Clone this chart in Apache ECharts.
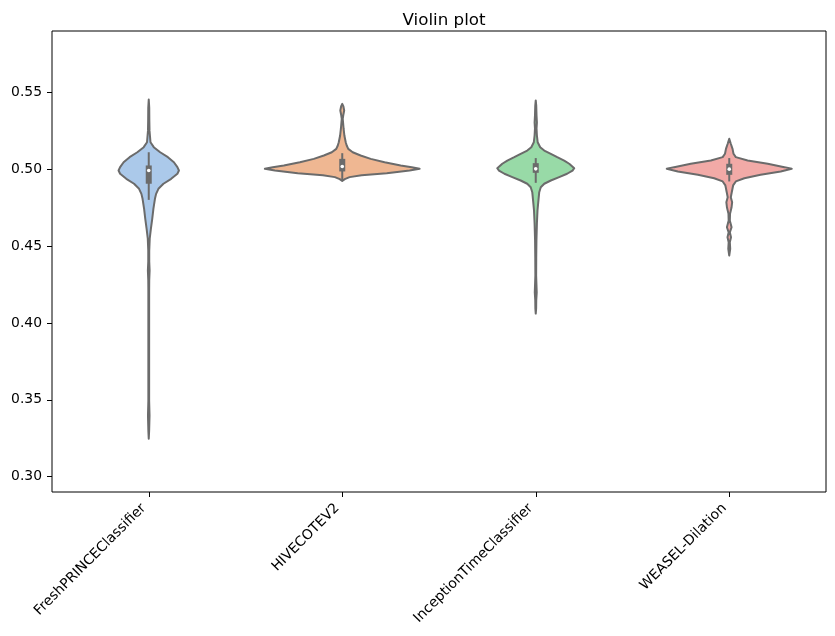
<!DOCTYPE html>
<html>
<head>
<meta charset="utf-8">
<script src="https://cdn.jsdelivr.net/npm/echarts@6/dist/echarts.min.js"></script>
<style>
  html, body { margin: 0; padding: 0; background: #fff; }
  #chart { width: 835px; height: 636px; }
</style>
</head>
<body>
<div id="chart"></div>
<script>
// categories
var categories = ['FreshPRINCEClassifier', 'HIVECOTEV2', 'InceptionTimeClassifier', 'WEASEL-Dilation'];

// violin outlines: value (top -> bottom) and half width as % of the category band
var freshY = [0.5454, 0.5400, 0.5318, 0.5250, 0.5176, 0.5144, 0.5111, 0.5079, 0.5046, 0.5014, 0.4992, 0.4971, 0.4938, 0.4906, 0.4873, 0.4840, 0.4808, 0.4743, 0.4678, 0.4613, 0.4548, 0.4471, 0.4400, 0.4341, 0.4280, 0.4211, 0.3820, 0.3495, 0.3397, 0.3299, 0.3247];
var freshW = [0, 0.25, 0.3, 0.4, 0.9, 2.6, 5.9, 9.9, 13.0, 14.8, 15.6, 14.8, 11.6, 7.6, 5.0, 3.8, 3.2, 2.4, 1.8, 1.1, 0.5, 0.25, 0.25, 0.45, 0.25, 0.2, 0.2, 0.2, 0.4, 0.2, 0];

var hiveY = [0.5426, 0.5409, 0.5383, 0.5357, 0.5329, 0.5307, 0.5264, 0.5220, 0.5176, 0.5155, 0.5133, 0.5111, 0.5090, 0.5068, 0.5046, 0.5025, 0.5014, 0.5003, 0.4992, 0.4975, 0.4962, 0.4949, 0.4936, 0.4924];
var hiveW = [0, 0.6, 1.0, 0.6, 0.25, 0.4, 0.7, 1.1, 1.8, 2.3, 3.1, 5.4, 9.5, 14.7, 21.9, 30.2, 35.9, 40.0, 34.8, 23.0, 10.0, 3.8, 1.3, 0];

var inceptionY = [0.5448, 0.5415, 0.5350, 0.5305, 0.5266, 0.5220, 0.5176, 0.5144, 0.5122, 0.5101, 0.5079, 0.5057, 0.5036, 0.5007, 0.4992, 0.4971, 0.4949, 0.4927, 0.4906, 0.4883, 0.4851, 0.4786, 0.4732, 0.4647, 0.4536, 0.4426, 0.4309, 0.4198, 0.4146, 0.4094, 0.4061];
var inceptionW = [0, 0.25, 0.4, 0.6, 0.4, 0.6, 1.0, 2.3, 4.4, 7.8, 11.1, 14.7, 17.3, 19.9, 19.0, 16.2, 12.1, 7.8, 4.4, 2.6, 1.8, 1.3, 0.9, 0.6, 0.35, 0.25, 0.2, 0.5, 0.25, 0.2, 0];

var weaselY = [0.5199, 0.5166, 0.5133, 0.5101, 0.5079, 0.5057, 0.5036, 0.5014, 0.5003, 0.4986, 0.4964, 0.4942, 0.4921, 0.4895, 0.4851, 0.4818, 0.4786, 0.4753, 0.4710, 0.4667, 0.4623, 0.4590, 0.4558, 0.4525, 0.4482, 0.4439];
var weaselW = [0, 0.8, 1.7, 2.2, 3.4, 9.5, 19.9, 28.5, 32.3, 26.6, 16.2, 7.8, 3.4, 2.0, 1.3, 0.8, 1.5, 1.2, 0.4, 0.3, 1.2, 0.3, 0.9, 0.3, 0.5, 0];

// inner box stats per category
var whiskerLow = [0.4801, 0.4925, 0.4912, 0.4921];
var q1 = [0.4906, 0.4986, 0.4977, 0.4964];
var median = [0.4992, 0.5018, 0.5003, 0.5001];
var q3 = [0.5025, 0.5068, 0.5040, 0.5036];
var whiskerHigh = [0.5111, 0.5105, 0.5073, 0.5073];

// y tick labels
var yTicks = [0.30, 0.35, 0.40, 0.45, 0.50, 0.55];

// pastel palette, desaturated a bit like seaborn does for violins
var colors = ['#abc9ea', '#efb792', '#98daa7', '#f2aaa7'];
var gray = '#6b6b6b';
var profileY = [freshY, hiveY, inceptionY, weaselY];
var profileW = [freshW, hiveW, inceptionW, weaselW];

var myChart = echarts.init(document.getElementById('chart'));

function renderViolin(params, api) {
    var i = params.dataIndex;
    var ys = profileY[i];
    var ws = profileW[i];
    var band = api.size([1, 0])[0];
    var cx = api.coord([i, 0.5])[0];
    var right = [];
    var left = [];
    for (var k = 0; k < ys.length; k++) {
        var py = api.coord([i, ys[k]])[1];
        var hw = ws[k] / 100 * band;
        right.push([cx + hw, py]);
        left.unshift([cx - hw, py]);
    }
    var pts = right.concat(left);
    var wLo = api.coord([i, whiskerLow[i]])[1];
    var wHi = api.coord([i, whiskerHigh[i]])[1];
    var bLo = api.coord([i, q1[i]])[1];
    var bHi = api.coord([i, q3[i]])[1];
    var med = api.coord([i, median[i]])[1];
    return {
        type: 'group',
        children: [{
            type: 'polygon',
            shape: { points: pts },
            style: { fill: colors[i], stroke: gray, lineWidth: 2, lineJoin: 'round' }
        }, {
            type: 'line',
            shape: { x1: cx, y1: wHi, x2: cx, y2: wLo },
            style: { stroke: gray, lineWidth: 2 }
        }, {
            type: 'rect',
            shape: { x: cx - 3, y: bHi, width: 6, height: bLo - bHi },
            style: { fill: gray }
        }, {
            type: 'circle',
            shape: { cx: cx, cy: med, r: 1.8 },
            style: { fill: '#fff' }
        }]
    };
}

var option = {
    animation: false,
    title: {
        text: 'Violin plot',
        left: 439,
        top: 7,
        textAlign: 'center',
        textStyle: {
            fontFamily: 'DejaVu Sans',
            fontWeight: 'normal',
            fontSize: 16.7,
            color: '#000'
        }
    },
    grid: {
        show: true,
        left: 52,
        right: 9,
        top: 31,
        bottom: 144,
        borderColor: '#000',
        borderWidth: 1,
        containLabel: false
    },
    xAxis: {
        type: 'category',
        data: categories,
        boundaryGap: true,
        axisLine: { show: false },
        axisTick: {
            show: true,
            alignWithLabel: true,
            length: 5,
            lineStyle: { color: '#000', width: 1 }
        },
        axisLabel: {
            rotate: 45,
            interval: 0,
            margin: 19,
            align: 'right',
            verticalAlign: 'bottom',
            fontFamily: 'DejaVu Sans',
            fontSize: 13.9,
            color: '#000'
        },
        splitLine: { show: false }
    },
    yAxis: {
        type: 'value',
        min: 0.29,
        max: 0.59,
        axisLine: { show: false },
        axisTick: {
            show: true,
            length: 5,
            customValues: yTicks,
            lineStyle: { color: '#000', width: 1 }
        },
        axisLabel: {
            margin: 10,
            customValues: yTicks,
            formatter: function (v) { return v.toFixed(2); },
            fontFamily: 'DejaVu Sans',
            fontSize: 13.9,
            color: '#000'
        },
        splitLine: { show: false }
    },
    series: [{
        type: 'custom',
        renderItem: renderViolin,
        encode: { x: 0, y: 1 },
        data: categories.map(function (c, i) { return [i, median[i]]; })
    }]
};

myChart.setOption(option);
</script>
</body>
</html>
